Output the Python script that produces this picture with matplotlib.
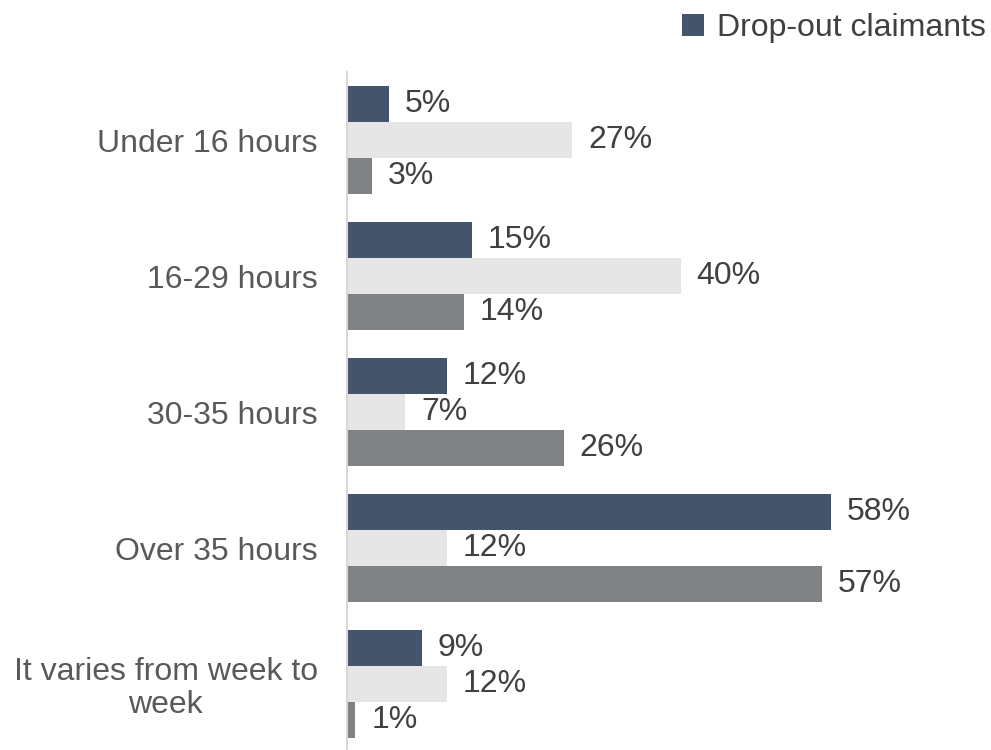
import matplotlib.pyplot as plt
import numpy as np

plt.rcParams["font.family"] = ["Liberation Sans", "DejaVu Sans"]

categories = ["Under 16 hours", "16-29 hours", "30-35 hours", "Over 35 hours",
              "It varies from week to\nweek"]
dropout = [5, 15, 12, 58, 9]
second = [27, 40, 7, 12, 12]
third = [3, 14, 26, 57, 1]

colors = ["#44546A", "#E6E6E6", "#808285"]
text_color = "#404040"


def main():
    fig = plt.figure(figsize=(9.91, 7.5), dpi=100)
    ax = fig.add_axes([347 / 991, -2 / 750, 1 - 347 / 991, 680 / 750])

    y = np.arange(len(categories))
    h = 0.265
    series = [dropout, second, third]
    bars = []
    for i, (vals, c) in enumerate(zip(series, colors)):
        b = ax.barh(y + (i - 1) * h, vals, height=h, color=c)
        bars.append(b)
        for yy, v in zip(y + (i - 1) * h, vals):
            ax.text(v + 1.9, yy, f"{v}%", va="center", ha="left",
                    fontsize=23, color=text_color)

    ax.set_xlim(0, (991 - 347) / 8.34)
    ax.set_ylim(len(categories) - 0.5, -0.5)
    ax.set_yticks(y)
    ax.set_yticklabels(categories, fontsize=23, color="#595959",
                       multialignment="center", linespacing=1.1)
    ax.tick_params(axis="y", length=0, pad=21)
    ax.set_xticks([])
    for side in ["top", "right", "bottom"]:
        ax.spines[side].set_visible(False)
    ax.spines["left"].set_color("#D9D9D9")
    ax.spines["left"].set_linewidth(1.5)

    fig.legend([bars[0]], ["Drop-out claimants"], loc="upper right",
               bbox_to_anchor=(1.014, 1.008), frameon=False, fontsize=23,
               handlelength=0.7, handleheight=0.7, handletextpad=0.4,
               labelcolor=text_color, borderaxespad=0.2)

    fig.savefig("out.png", dpi=100)


if __name__ == "__main__":
    main()
